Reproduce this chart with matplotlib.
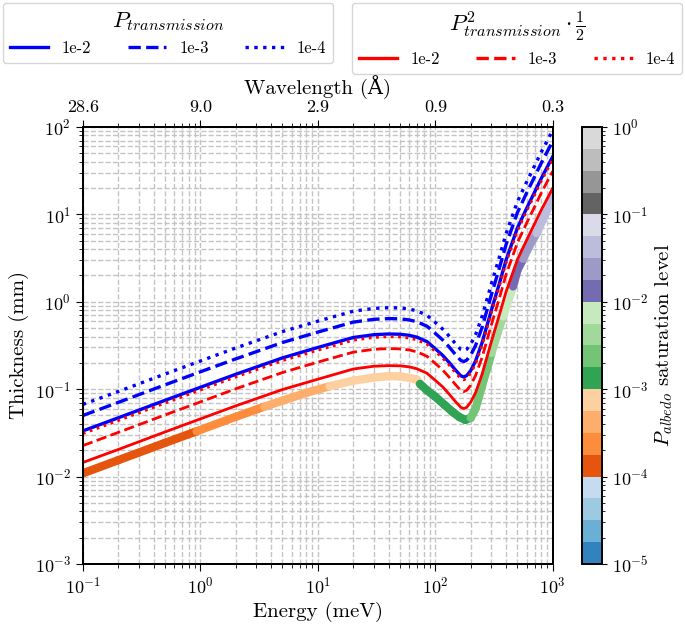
import matplotlib
matplotlib.use("Agg")
import matplotlib.pyplot as plt
import numpy as np
from matplotlib.collections import LineCollection
from matplotlib.colors import LogNorm
from matplotlib.lines import Line2D
from matplotlib.ticker import NullFormatter
import matplotlib.cm as cm

plt.rcParams["font.family"] = ["cmr10", "DejaVu Serif"]
plt.rcParams["mathtext.fontset"] = "cm"
plt.rcParams["axes.formatter.use_mathtext"] = True
plt.rcParams["axes.unicode_minus"] = True

# energy grid (meV) shared by the transmission curves
energy = [0.1, 0.2, 0.5, 1, 2, 5, 10, 20, 30, 40, 50, 60, 70, 85, 100, 115, 130,
          150, 165, 175, 185, 200, 220, 250, 300, 350, 400, 500, 600, 700, 800, 1000]

# P_transmission curves (mm)
blue_1e2 = [0.0333, 0.047, 0.0745, 0.105, 0.148, 0.228, 0.30, 0.39, 0.42, 0.428, 0.425,
            0.413, 0.393, 0.35, 0.29, 0.245, 0.205, 0.163, 0.142, 0.138, 0.143, 0.163,
            0.21, 0.34, 0.8, 1.6, 3.0, 7.0, 11.8, 18, 26, 46]
blue_1e3 = [0.05, 0.0705, 0.112, 0.158, 0.222, 0.342, 0.45, 0.585, 0.63, 0.642, 0.638,
            0.62, 0.59, 0.525, 0.435, 0.368, 0.308, 0.245, 0.213, 0.207, 0.215, 0.245,
            0.315, 0.51, 1.2, 2.4, 4.5, 10.5, 17.7, 27, 39, 69]
blue_1e4 = [0.067, 0.094, 0.149, 0.21, 0.296, 0.456, 0.60, 0.78, 0.84, 0.856, 0.85,
            0.826, 0.786, 0.70, 0.58, 0.49, 0.41, 0.326, 0.284, 0.276, 0.286, 0.326,
            0.42, 0.68, 1.6, 3.2, 6.0, 14, 23.6, 36, 52, 92]

# P^2_transmission * 1/2 curves (mm)
red_1e2 = [0.0145, 0.0204, 0.0324, 0.0457, 0.0644, 0.099, 0.13, 0.17, 0.183, 0.186, 0.185,
           0.18, 0.171, 0.152, 0.126, 0.107, 0.089, 0.071, 0.062, 0.06, 0.062, 0.071,
           0.091, 0.148, 0.35, 0.7, 1.3, 3.05, 5.1, 7.8, 11.3, 20]
red_1e3 = [0.0226, 0.032, 0.0507, 0.0714, 0.101, 0.155, 0.204, 0.265, 0.286, 0.291, 0.289,
           0.281, 0.267, 0.238, 0.197, 0.167, 0.139, 0.111, 0.0966, 0.0938, 0.0972, 0.111,
           0.143, 0.231, 0.544, 1.09, 2.04, 4.76, 8.0, 12.2, 17.7, 31.3]
red_1e4 = [0.031, 0.0437, 0.0693, 0.0977, 0.138, 0.212, 0.279, 0.363, 0.391, 0.398, 0.395,
           0.384, 0.365, 0.326, 0.27, 0.228, 0.191, 0.152, 0.132, 0.128, 0.133, 0.152,
           0.195, 0.316, 0.744, 1.49, 2.79, 6.5, 11, 16.7, 24.2, 42.8]

# albedo curve, coloured by saturation level
energy_alb = [0.1, 0.2, 0.5, 0.93, 2, 3.5, 5, 8, 12.6, 20, 30, 40, 50, 60, 70, 74, 85,
              100, 120, 140, 160, 180, 200, 220, 250, 275, 301, 340, 378, 420, 459,
              500, 559, 640, 727, 850, 1000]
thick_alb = [0.0109, 0.0154, 0.0243, 0.033, 0.0483, 0.063, 0.074, 0.091, 0.108, 0.125,
             0.136, 0.141, 0.14, 0.135, 0.128, 0.115, 0.097, 0.082, 0.066, 0.055, 0.048,
             0.0445, 0.047, 0.06, 0.11, 0.17, 0.26, 0.45, 0.68, 1.05, 1.5, 2.3, 3.1,
             4.5, 6.1, 9.5, 16]
level_alb = [1.2e-4, 1.35e-4, 1.55e-4, 1.8e-4, 2.3e-4, 3.2e-4, 3.7e-4, 4.6e-4, 5.7e-4,
             6.6e-4, 7.4e-4, 8.0e-4, 8.6e-4, 9.2e-4, 9.7e-4, 1.05e-3, 1.15e-3, 1.25e-3,
             1.35e-3, 1.45e-3, 1.55e-3, 1.65e-3, 1.8e-3, 2.1e-3, 2.6e-3, 2.9e-3, 3.2e-3,
             4.3e-3, 5.7e-3, 7.8e-3, 1.02e-2, 1.3e-2, 1.8e-2, 2.4e-2, 3.2e-2, 4.2e-2, 5.2e-2]

# top axis
tick_energy = [0.1, 1, 10, 100, 1000]
wavelength_labels = ["28.6", "9.0", "2.9", "0.9", "0.3"]

legend_labels = ["1e-2", "1e-3", "1e-4"]
styles = ["-", "--", ":"]

fig = plt.figure(figsize=(6.85, 6.24), dpi=100)
ax = fig.add_axes([0.121, 0.0962, 0.686, 0.7003])
cax = fig.add_axes([0.8496, 0.0962, 0.0292, 0.7003])

ax.set_xscale("log")
ax.set_yscale("log")

norm = LogNorm(1e-5, 1)
cmap = plt.get_cmap("tab20c")

pts = np.column_stack([energy_alb, thick_alb])
segs = np.stack([pts[:-1], pts[1:]], axis=1)
lc = LineCollection(segs, cmap=cmap, norm=norm, linewidth=6,
                    capstyle="round", joinstyle="round", zorder=2)
lc.set_array(np.array(level_alb[:-1]))
ax.add_collection(lc)

for ys, ls in zip([blue_1e2, blue_1e3, blue_1e4], styles):
    ax.plot(energy, ys, color="blue", ls=ls, lw=2.4, zorder=3)
for ys, ls in zip([red_1e2, red_1e3, red_1e4], styles):
    ax.plot(energy, ys, color="red", ls=ls, lw=2.0, zorder=3)

ax.set_xlim(0.1, 1000)
ax.set_ylim(1e-3, 1e2)
ax.grid(True, which="both", ls="--", color="#c4c4c4", lw=1)
ax.set_axisbelow(True)
ax.tick_params(labelsize=13, which="major", length=5)
ax.tick_params(which="minor", length=3)
ax.set_xlabel("Energy (meV)", fontsize=15)
ax.set_ylabel("Thickness (mm)", fontsize=15)
for sp in ax.spines.values():
    sp.set_linewidth(1.4)

ax2 = ax.twiny()
ax2.set_xscale("log")
ax2.set_xlim(ax.get_xlim())
ax2.set_xticks(tick_energy)
ax2.set_xticklabels(wavelength_labels)
ax2.xaxis.set_minor_formatter(NullFormatter())
ax2.tick_params(labelsize=13, which="major", length=5)
ax2.tick_params(which="minor", length=3)
ax2.set_xlabel("Wavelength (Å)", fontsize=15)
for sp in ax2.spines.values():
    sp.set_linewidth(1.4)

sm = cm.ScalarMappable(norm=norm, cmap=cmap)
cb = fig.colorbar(sm, cax=cax)
cb.set_label(r"$P_{albedo}$ saturation level", fontsize=15)
cb.ax.tick_params(labelsize=13)
cb.outline.set_linewidth(1.4)

h_blue = [Line2D([], [], color="blue", ls=s, lw=2.4) for s in styles]
h_red = [Line2D([], [], color="red", ls=s, lw=2.4) for s in styles]
leg_kw = dict(ncol=3, borderaxespad=0, fontsize=12, title_fontsize=16.5,
              handlelength=2.3, columnspacing=2.2, frameon=True)
fig.legend(h_blue, legend_labels, title=r"$P_{transmission}$", loc="upper left",
           bbox_to_anchor=(3 / 685, 1 - 3 / 624), **leg_kw)
fig.legend(h_red, legend_labels, title=r"$P^2_{transmission} \cdot \frac{1}{2}$",
           loc="upper right", bbox_to_anchor=(682 / 685, 1 - 3 / 624), **leg_kw)

fig.savefig("out.png", dpi=100)
